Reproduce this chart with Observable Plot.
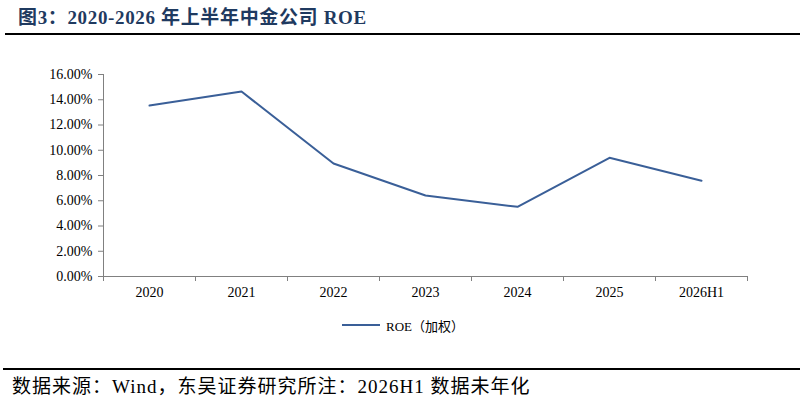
<!DOCTYPE html>
<html><head><meta charset="utf-8">
<script src="https://cdn.jsdelivr.net/npm/d3@7"></script>
<script src="https://cdn.jsdelivr.net/npm/@observablehq/plot@0.6"></script>
<style>
body{margin:0;background:#fff;width:805px;height:403px;overflow:hidden;font-family:"Liberation Serif","Noto Sans CJK SC",serif;}
#title{position:relative;height:40px;}
#title .t{position:absolute;left:18px;top:2px;font-size:19px;font-weight:bold;color:#1f3a60;letter-spacing:0.65px;white-space:nowrap;}
#title .rule{position:absolute;left:5px;right:5px;top:33px;height:2px;background:#000;}
#legend{height:40px;position:relative;font-size:13px;color:#000;}
#legend .sw{position:absolute;left:342px;top:19px;width:38px;height:2px;background:#3a5f98;}
#legend .lb{position:absolute;left:386px;top:11px;white-space:nowrap;}
#foot{position:relative;height:58px;}
#foot .rule{position:absolute;left:3px;right:5px;top:23px;height:2px;background:#000;}
#foot .t{position:absolute;left:12px;top:26px;font-size:19px;letter-spacing:1px;color:#000;white-space:nowrap;}
</style></head>
<body>
<div id="title"><div class="t">图3：2020-2026 年上半年中金公司 ROE</div><div class="rule"></div></div>
<div id="chart"></div>
<div id="legend"><div class="sw"></div><div class="lb">ROE（加权）</div></div>
<div id="foot"><div class="rule"></div><div class="t">数据来源：Wind，东吴证券研究所注：2026H1 数据未年化</div></div>
<script>
const categories = ["2020","2021","2022","2023","2024","2025","2026H1"];
const roe = [13.54, 14.65, 8.95, 6.42, 5.52, 9.40, 7.58];
const yTicks = [0,2,4,6,8,10,12,14,16];

const data = categories.map((c,i)=>({i:i+0.5, cat:c, v:roe[i]}));
const gray = "#808080";
const plot = Plot.plot({
  width:805, height:265,
  marginTop:34, marginBottom:29, marginLeft:103, marginRight:58,
  style:{fontFamily:'"Liberation Serif","Noto Sans CJK SC",serif', fontSize:"14px", color:"#000", background:"transparent", overflow:"visible"},
  x:{type:"linear", domain:[0, categories.length]},
  y:{domain:[0,16]},
  marks:[
    Plot.axisY({ticks:yTicks, tickSize:5, tickPadding:6, tickFormat:d=>d.toFixed(2)+"%", stroke:gray, fontSize:14, label:null}),
    Plot.axisX({ticks:d3.range(categories.length+1), tickSize:5, tickFormat:()=>"", stroke:gray, label:null}),
    Plot.axisX({ticks:data.map(d=>d.i), tickSize:0, tickPadding:11, tickFormat:d=>categories[Math.floor(d)], fontSize:14, label:null}),
    Plot.ruleX([0], {stroke:gray}),
    Plot.ruleY([0], {stroke:gray}),
    Plot.line(data, {x:"i", y:"v", stroke:"#3a5f98", strokeWidth:2})
  ]
});
document.getElementById("chart").appendChild(plot);
</script>
</body></html>
